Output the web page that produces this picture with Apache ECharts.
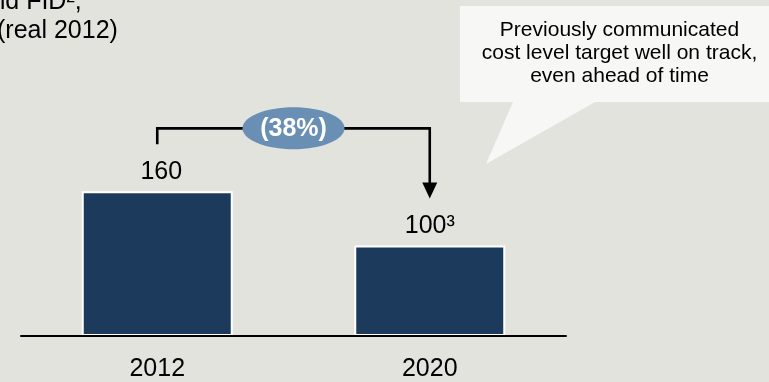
<!DOCTYPE html>
<html><head><meta charset="utf-8">
<script src="https://cdn.jsdelivr.net/npm/echarts@6.0.0/dist/echarts.min.js"></script>
<style>html,body{margin:0;padding:0;background:#E3E3DE;overflow:hidden}#c{width:769px;height:382px}</style>
</head><body><div id="c"></div>
<script>
// ---- data ----
const categories = ['2012', '2020'];
const values = [160, 100];
const valueLabels = ['160', '100³'];
const titleLines = ['and FID²,', '(real 2012)'];
const calloutLines = ['Previously communicated', 'cost level target well on track,', 'even ahead of time'];

// ---- styling ----
const FONT = '"Liberation Sans", Arial, Helvetica, sans-serif';
const BG = '#E3E3DE';
const BAR = '#1B3A5C';
const PILL = '#6A8FB5';

const chart = echarts.init(document.getElementById('c'), null, { renderer: 'canvas' });

const changeRaw = (values[1] - values[0]) / values[0] * 100;
const changeAbs = Math.round(Math.abs(changeRaw));
const changeLabel = changeRaw < 0 ? '(' + changeAbs + '%)' : changeAbs + '%';

chart.setOption({
  backgroundColor: BG,
  animation: false,
  grid: { left: 21, right: 203, top: 110, bottom: 44, containLabel: false },
  xAxis: {
    type: 'category', data: categories, z: 5,
    axisLine: { lineStyle: { color: '#000', width: 2 } },
    axisTick: { show: false },
    axisLabel: { color: '#000', fontSize: 25, fontFamily: FONT, margin: 21 }
  },
  yAxis: { type: 'value', min: 0, max: 250, show: false, splitLine: { show: false } },
  series: [{
    type: 'bar', barWidth: 151,
    data: values.map((v, i) => ({
      value: v,
      label: { formatter: valueLabels[i], offset: i === 0 ? [4, 0] : [0, 0] }
    })),
    itemStyle: { color: BAR, borderColor: '#FFFFFF', borderWidth: 2 },
    label: { show: true, position: 'top', distance: 7, color: '#000', fontSize: 25, fontFamily: FONT }
  }]
});

// annotation geometry derived from the chart's own scales
const p0 = chart.convertToPixel({ seriesIndex: 0 }, [0, values[0]]);
const p1 = chart.convertToPixel({ seriesIndex: 0 }, [1, values[1]]);
const gap = 47;             // distance of bracket ends above bar tops
const levelY = p0[1] - 63;  // bracket horizontal level
const midX = (p0[0] + p1[0]) / 2;
const arrowH = 16, arrowW = 15;
const lineStyle = { stroke: '#000', lineWidth: 2.6 };

chart.setOption({
  graphic: [
    // callout bubble
    { type: 'polygon', z: 1, shape: { points: [[460, 6], [790, 6], [790, 102], [595, 102], [486, 164], [513, 102], [460, 102]] },
      style: { fill: '#F7F7F6' } },
    { type: 'text', z: 2, x: 619.5, y: 53,
      style: { text: calloutLines.join('\n'), fill: '#000', font: '21px ' + FONT, align: 'center', verticalAlign: 'middle', lineHeight: 23 } },
    // title fragment (clipped at top-left)
    { type: 'text', x: -22.5, y: 15, style: { text: titleLines[0], fill: '#000', font: '25px ' + FONT, align: 'left', verticalAlign: 'bottom' } },
    { type: 'text', x: -3, y: 44, style: { text: titleLines[1], fill: '#000', font: '25px ' + FONT, align: 'left', verticalAlign: 'bottom' } },
    // bracket
    { type: 'polyline', z: 10, shape: { points: [[p0[0], p0[1] - gap], [p0[0], levelY], [p1[0], levelY], [p1[0], p1[1] - gap - arrowH + 1]] },
      style: Object.assign({ fill: null }, lineStyle) },
    { type: 'polygon', z: 10, shape: { points: [[p1[0] - arrowW / 2, p1[1] - gap - arrowH], [p1[0] + arrowW / 2, p1[1] - gap - arrowH], [p1[0], p1[1] - gap]] },
      style: { fill: '#000' } },
    // pill with change label
    { type: 'ellipse', z: 11, shape: { cx: midX, cy: levelY, rx: 51, ry: 21 }, style: { fill: PILL } },
    { type: 'text', z: 12, x: midX, y: levelY + 1,
      style: { text: changeLabel, fill: '#FFFFFF', font: 'bold 25px ' + FONT, align: 'center', verticalAlign: 'middle' } }
  ]
});
</script>
</body></html>
